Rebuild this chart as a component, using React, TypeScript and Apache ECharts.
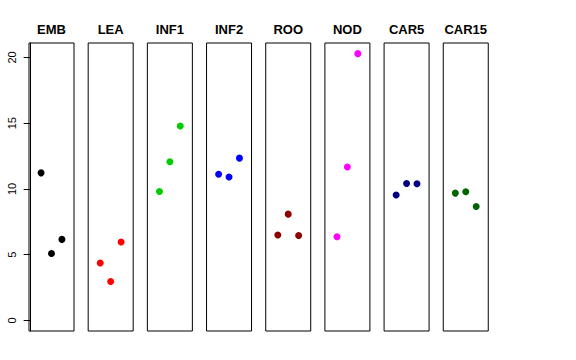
import React, { useEffect, useRef } from "react";
import * as echarts from "echarts";

const categories = ["EMB", "LEA", "INF1", "INF2", "ROO", "NOD", "CAR5", "CAR15"];
const colors = ["#000000", "#FF0000", "#00CD00", "#0000FF", "#8B0000", "#FF00FF", "#000080", "#006400"];
const positions = [1, 2, 3];
const embValues = [11.22, 5.09, 6.16];
const leaValues = [4.36, 2.96, 5.96];
const inf1Values = [9.8, 12.06, 14.79];
const inf2Values = [11.12, 10.9, 12.34];
const rooValues = [6.49, 8.08, 6.46];
const nodValues = [6.36, 11.66, 20.29];
const car5Values = [9.53, 10.41, 10.39];
const car15Values = [9.68, 9.78, 8.66];
const yTicks = [0, 5, 10, 15, 20];

const allValues = [embValues, leaValues, inf1Values, inf2Values, rooValues, nodValues, car5Values, car15Values];

export default function App() {
  const ref = useRef<HTMLDivElement>(null);
  useEffect(() => {
    if (!ref.current) return;
    const chart = echarts.init(ref.current, null, { renderer: "svg" });
    const panelLeft0 = 29;
    const panelStep = 59.18;
    const panelWidth = 45;
    const top = 43;
    const height = 288;
    const yMin = -0.81;
    const yMax = 21.1;
    const font = "Liberation Sans, Arial, Helvetica, sans-serif";

    const grid = categories.map((_, i) => ({
      left: panelLeft0 + panelStep * i,
      top,
      width: panelWidth,
      height,
      show: true,
      borderColor: "#000",
      borderWidth: 1,
      backgroundColor: "transparent",
      containLabel: false,
    }));
    const xAxis = categories.map((_, i) => ({
      type: "value",
      gridIndex: i,
      min: -0.16,
      max: 4.16,
      show: false,
    }));
    const yAxis = categories.map((_, i) => ({
      type: "value",
      gridIndex: i,
      min: yMin,
      max: yMax,
      show: i === 0,
      splitLine: { show: false },
      axisLine: { show: i === 0, lineStyle: { color: "#000", width: 1 } },
      axisTick: {
        show: i === 0,
        length: 7,
        inside: false,
        customValues: yTicks,
        lineStyle: { color: "#000", width: 1 },
      },
      axisLabel: {
        show: i === 0,
        customValues: yTicks,
        rotate: 90,
        margin: 12,
        fontSize: 11,
        color: "#000",
        fontFamily: font,
      },
    }));
    const series = categories.map((c, i) => ({
      name: c,
      type: "scatter",
      xAxisIndex: i,
      yAxisIndex: i,
      symbol: "circle",
      symbolSize: 7,
      itemStyle: { color: colors[i], opacity: 1 },
      data: positions.map((p, j) => [p, allValues[i][j]]),
    }));
    const graphic = categories.map((c, i) => ({
      type: "text",
      x: panelLeft0 + panelStep * i + panelWidth / 2,
      y: 29,
      style: {
        text: c,
        textAlign: "center",
        textVerticalAlign: "middle",
        font: `bold 13px ${font}`,
        fill: "#000",
      },
    }));
    chart.setOption({
      animation: false,
      backgroundColor: "#fff",
      grid,
      xAxis,
      yAxis,
      series,
      graphic,
    });
    return () => chart.dispose();
  }, []);
  return (
    <div
      ref={ref}
      style={{ position: "fixed", left: 0, top: 0, width: 576, height: 360 }}
    />
  );
}
